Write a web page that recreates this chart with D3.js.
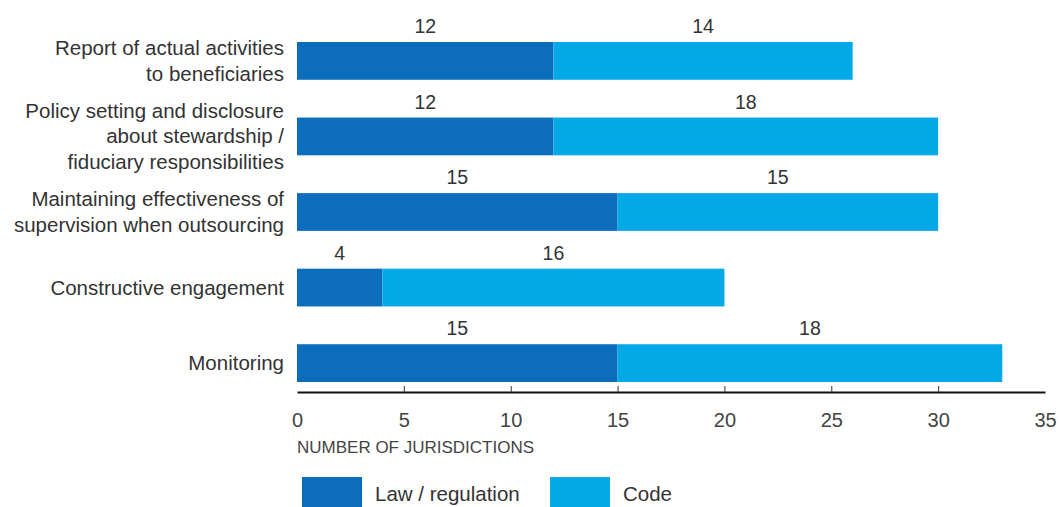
<!DOCTYPE html>
<html lang="en">
<head>
    <meta charset="utf-8">
    <title>Stewardship chart</title>
    <script src="https://cdn.jsdelivr.net/npm/d3@7"></script>
    <style>
        body { margin: 0; background: #fff; }
        text { font-family: "Liberation Sans", Arial, sans-serif; }
    </style>
</head>
<body>
    <script type="text/javascript">
        // chart data
        var categories = [
            ["Report of actual activities", "to beneficiaries"],
            ["Policy setting and disclosure", "about stewardship /", "fiduciary responsibilities"],
            ["Maintaining effectiveness of", "supervision when outsourcing"],
            ["Constructive engagement"],
            ["Monitoring"]
        ];
        var lawValues = [12, 12, 15, 4, 15];
        var codeValues = [14, 18, 15, 16, 18];
        var tickValues = [0, 5, 10, 15, 20, 25, 30, 35];
        var seriesNames = ["Law / regulation", "Code"];

        var width = 1059;
        var height = 507;
        var darkBlue = "#0c6dbd";
        var lightBlue = "#03a9e6";
        var colors = [darkBlue, lightBlue];

        var svg = d3.select("body").append("svg")
            .attr("width", width)
            .attr("height", height);

        var x = d3.scaleLinear()
            .domain([0, 35])
            .range([297, 1045]);

        var y = d3.scaleBand()
            .domain(d3.range(categories.length))
            .range([42, 382])
            .paddingInner(0.5)
            .paddingOuter(0);

        var rows = categories.map(function (c, i) {
            return { lines: c, law: lawValues[i], code: codeValues[i], i: i };
        });

        // law segment
        svg.selectAll("rect.law")
            .data(rows)
            .enter()
            .append("rect")
            .attr("class", "law")
            .attr("x", x(0))
            .attr("y", function (d) { return y(d.i); })
            .attr("width", function (d) { return x(d.law) - x(0); })
            .attr("height", y.bandwidth())
            .attr("fill", darkBlue);

        // code segment
        svg.selectAll("rect.code")
            .data(rows)
            .enter()
            .append("rect")
            .attr("class", "code")
            .attr("x", function (d) { return x(d.law); })
            .attr("y", function (d) { return y(d.i); })
            .attr("width", function (d) { return x(d.law + d.code) - x(d.law); })
            .attr("height", y.bandwidth())
            .attr("fill", lightBlue);

        // value labels above segments
        rows.forEach(function (d) {
            svg.append("text")
                .attr("x", x(d.law / 2))
                .attr("y", y(d.i) - 9)
                .attr("text-anchor", "middle")
                .attr("font-size", 19.5)
                .attr("fill", "#333")
                .text(d.law);
            svg.append("text")
                .attr("x", x(d.law + d.code / 2))
                .attr("y", y(d.i) - 9)
                .attr("text-anchor", "middle")
                .attr("font-size", 19.5)
                .attr("fill", "#333")
                .text(d.code);
        });

        // category labels
        var lineHeight = 25.5;
        rows.forEach(function (d) {
            var cy = y(d.i) + y.bandwidth() / 2;
            var t = svg.append("text")
                .attr("text-anchor", "end")
                .attr("font-size", 20.5)
                .attr("fill", "#333");
            d.lines.forEach(function (line, k) {
                var off = (k - (d.lines.length - 1) / 2) * lineHeight;
                t.append("tspan")
                    .attr("x", 284)
                    .attr("y", cy + off + 7)
                    .text(line);
            });
        });

        // x axis
        var axis = svg.append("g")
            .attr("transform", "translate(0,392)")
            .call(d3.axisBottom(x)
                .tickValues(tickValues)
                .tickSizeInner(-6)
                .tickSizeOuter(0)
                .tickPadding(21));

        axis.select(".domain").attr("stroke", "#111").attr("stroke-width", 2);
        axis.selectAll(".tick line")
            .attr("stroke", "#333")
            .filter(function (d) { return d == 0 || d == 35; })
            .remove();
        axis.selectAll(".tick text")
            .attr("font-size", 20)
            .attr("font-family", "Liberation Sans, Arial, sans-serif")
            .attr("fill", "#444");

        svg.append("text")
            .attr("x", 297)
            .attr("y", 453)
            .attr("font-size", 17)
            .attr("fill", "#444")
            .text("NUMBER OF JURISDICTIONS");

        // legend
        var legendX = [302, 550];
        seriesNames.forEach(function (name, i) {
            svg.append("rect")
                .attr("x", legendX[i])
                .attr("y", 477)
                .attr("width", 60)
                .attr("height", 32)
                .attr("fill", colors[i]);
            svg.append("text")
                .attr("x", legendX[i] + 73)
                .attr("y", 501)
                .attr("font-size", 20.5)
                .attr("fill", "#333")
                .text(name);
        });
    </script>
</body>
</html>
